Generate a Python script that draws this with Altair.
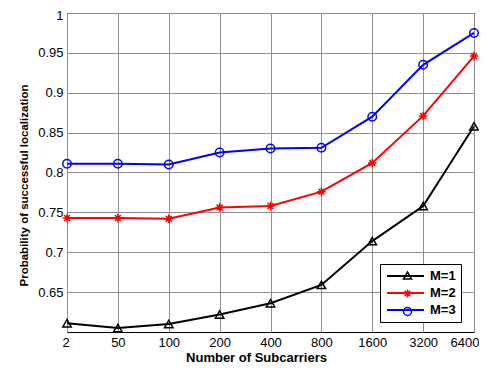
import altair as alt
import pandas as pd

subcarriers = ["2", "50", "100", "200", "400", "800", "1600", "3200", "6400"]
series = ["M=1", "M=2", "M=3"]
point_keys = ["p1", "p2", "p3"]
m1 = [0.611, 0.605, 0.610, 0.622, 0.636, 0.659, 0.714, 0.758, 0.858]
m2 = [0.743, 0.743, 0.742, 0.756, 0.758, 0.776, 0.812, 0.871, 0.946]
m3 = [0.811, 0.811, 0.810, 0.825, 0.830, 0.831, 0.870, 0.935, 0.975]
y_ticks = [0.65, 0.7, 0.75, 0.8, 0.85, 0.9, 0.95, 1.0]

rows = []
for name, key, vals in zip(series, point_keys, [m1, m2, m3]):
    for s, v in zip(subcarriers, vals):
        rows.append({"N": s, "P": v, "M": name, "K": key})
df = pd.DataFrame(rows)

colors = ["black", "red", "blue"]
star = "M-1,0L1,0M0,-1L0,1M-0.7,-0.7L0.7,0.7M-0.7,0.7L0.7,-0.7"
shapes = ["triangle-up", star, "circle"]

x_enc = alt.X("N:O", sort=subcarriers,
              scale=alt.Scale(type="point", padding=0),
              axis=alt.Axis(title="Number of Subcarriers", labelAngle=0,
                            labelFlush=True, labelFlushOffset=5,
                            titleX=189, titleY=25, titleBaseline="middle"))
y_enc = alt.Y("P:Q", scale=alt.Scale(domain=[0.6, 1.0], nice=False, zero=False),
              axis=alt.Axis(title="Probability of successful localization",
                            values=y_ticks, format="~g", titleFontSize=11.5,
                            labelOffset={"condition": {"test": "datum.value >= 1", "value": 2},
                                         "value": 0},
                            titleX=-43, titleY=172, titleAngle=270,
                            titleBaseline="middle", titleAlign="center"))

lines = alt.Chart(df).mark_line(strokeWidth=2).encode(
    x=x_enc, y=y_enc,
    stroke=alt.Stroke("M:N", scale=alt.Scale(domain=series, range=colors),
                      legend=alt.Legend(orient="none", legendX=313, legendY=251,
                                        title=None, symbolType="M-0.83,0L5.33,0",
                                        symbolSize=144, symbolStrokeWidth=2,
                                        labelFontSize=13, labelFontWeight="bold",
                                        labelColor="black", labelFont="Liberation Sans",
                                        labelOffset=31, padding=5, rowPadding=3,
                                        strokeColor="black", fillColor="white",
                                        cornerRadius=0, zindex=1)),
)

pt_legend = alt.Legend(orient="none", legendX=329, legendY=251, title=None,
                       symbolSize=64, symbolStrokeWidth=1.5,
                       labelFontSize=13, labelFontWeight="bold",
                       labelExpr="''", labelOffset=31, padding=5, rowPadding=3,
                       zindex=2)

points = alt.Chart(df).mark_point(filled=False, size=72, strokeWidth=1.5, opacity=1).encode(
    x=x_enc, y=y_enc,
    color=alt.Color("K:N", scale=alt.Scale(domain=point_keys, range=colors), legend=pt_legend),
    shape=alt.Shape("K:N", scale=alt.Scale(domain=point_keys, range=shapes), legend=pt_legend),
)

chart = alt.layer(lines, points).properties(
    width=407, height=319,
    autosize=alt.AutoSizeParams(type="none"),
    padding={"left": 59, "top": 5, "right": 5, "bottom": 32},
).configure_axis(
    labelFont="Liberation Sans", labelFontSize=13, labelColor="black",
    titleFont="Liberation Sans", titleFontSize=13, titleFontWeight="bold",
    titleColor="black", grid=True, gridColor="#909090", gridWidth=1,
    domain=False, ticks=False, labelPadding=4,
).configure_view(stroke="black", strokeWidth=1)

chart.save("out.html", embed_options={"renderer": "svg", "actions": False})
